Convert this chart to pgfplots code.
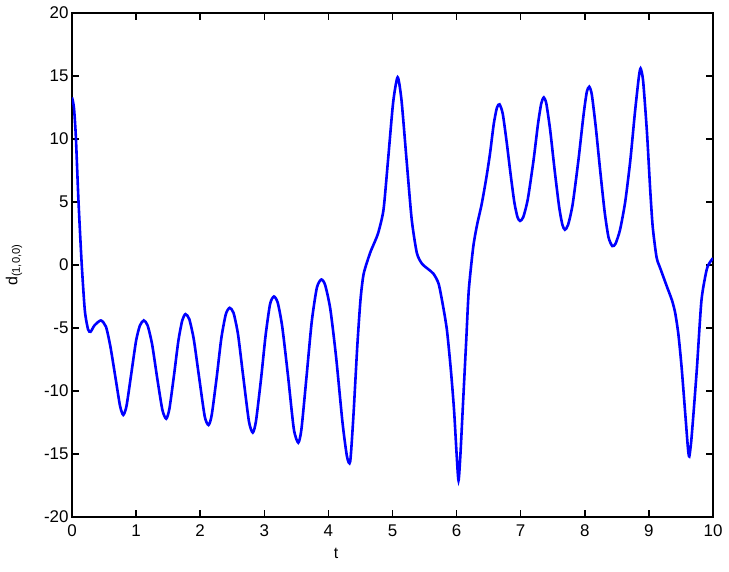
\documentclass[border=0pt]{standalone}
\usepackage{fontspec}
\setmainfont{Liberation Sans}
\usepackage{pgfplots}
\pgfplotsset{compat=1.18}
\begin{document}
\begin{tikzpicture}
\begin{axis}[
  scale only axis,
  width=641bp, height=504bp,
  xmin=0, xmax=10, ymin=-20, ymax=20,
  xtick={0,1,2,3,4,5,6,7,8,9,10},
  xticklabels={0,1,2,3,4,5,6,7,8,9,10},
  ytick={-20,-15,-10,-5,0,5,10,15,20},
  yticklabels={-20,-15,-10,-5,0,5,10,15,20},
  tick align=inside,
  tick pos=both,
  major tick length=7bp,
  axis line style={line width=1.5bp, black},
  every tick/.style={line width=1.5bp, black},
  ticklabel style={font=\fontsize{17}{20}\selectfont},
  xticklabel style={yshift=-4bp},
  xlabel={t},
  ylabel={d\textsubscript{(1,0,0)}},
  label style={font=\fontsize{16}{18}\selectfont},
  xlabel style={at={([yshift=-36bp]rel axis cs:0.412,0)}, anchor=center},
  ylabel style={at={([xshift=-58bp]rel axis cs:0,0.5)}, anchor=center},
]
\addplot[color={rgb,255:red,0;green,0;blue,255}, line width=2.6bp, smooth, tension=0.4] coordinates {
(0.00,13.3) (0.03,12.5) (0.06,10.2) (0.10,5.2) (0.15,0.2) (0.20,-3.6) (0.25,-5.1) (0.29,-5.3)
(0.35,-4.8) (0.45,-4.4) (0.53,-4.9) (0.60,-6.5) (0.68,-9.0) (0.75,-11.2) (0.80,-11.9) (0.85,-11.2)
(0.92,-8.8) (1.00,-6.0) (1.06,-4.8) (1.12,-4.4) (1.18,-4.8) (1.25,-6.3) (1.33,-9.0) (1.41,-11.5)
(1.47,-12.2) (1.52,-11.4) (1.59,-8.8) (1.66,-6.0) (1.72,-4.4) (1.77,-3.9) (1.83,-4.3) (1.90,-5.9)
(1.98,-8.8) (2.07,-12.0) (2.13,-12.7) (2.18,-11.9) (2.26,-8.8) (2.33,-5.8) (2.40,-3.9) (2.46,-3.4)
(2.52,-3.8) (2.59,-5.5) (2.67,-8.8) (2.76,-12.4) (2.82,-13.3) (2.87,-12.4) (2.95,-9.0) (3.02,-5.6)
(3.09,-3.1) (3.15,-2.5) (3.21,-3.0) (3.28,-4.9) (3.37,-8.8) (3.46,-13.0) (3.53,-14.1) (3.58,-13.0)
(3.66,-8.8) (3.74,-4.5) (3.82,-1.8) (3.89,-1.15) (3.95,-1.6) (4.03,-3.5) (4.12,-7.3) (4.22,-12.5)
(4.29,-15.2) (4.34,-15.6) (4.39,-12.0) (4.45,-6.5) (4.50,-2.8) (4.55,-0.7) (4.65,0.95) (4.72,1.8)
(4.78,2.6) (4.86,4.4) (4.93,8.3) (5.01,12.9) (5.08,14.9) (5.14,13.1) (5.22,8.3) (5.30,3.6)
(5.38,0.95) (5.46,0.1) (5.55,-0.3) (5.64,-0.7) (5.72,-1.5) (5.79,-3.3) (5.85,-5.2) (5.91,-8.3)
(5.96,-11.5) (6.00,-15.0) (6.03,-17.1) (6.06,-15.0) (6.10,-11.0) (6.15,-6.0) (6.19,-2.0) (6.26,1.45)
(6.32,3.2) (6.39,4.8) (6.46,6.8) (6.52,8.8) (6.58,11.2) (6.63,12.5) (6.67,12.75) (6.72,12.0)
(6.78,9.8) (6.84,7.3) (6.90,5.0) (6.95,3.8) (6.99,3.5) (7.04,3.8) (7.11,5.2) (7.20,8.3)
(7.27,11.2) (7.32,12.8) (7.36,13.3) (7.40,12.8) (7.46,10.7) (7.53,7.5) (7.60,4.6) (7.65,3.2)
(7.69,2.8) (7.74,3.2) (7.81,4.8) (7.90,8.3) (7.98,11.9) (8.03,13.7) (8.07,14.15) (8.11,13.5)
(8.17,11.0) (8.24,7.5) (8.31,4.2) (8.37,2.2) (8.43,1.5) (8.48,1.7) (8.55,2.8) (8.63,5.0)
(8.71,8.3) (8.78,12.0) (8.84,14.8) (8.87,15.6) (8.91,14.6) (8.97,10.5) (9.02,6.0) (9.06,3.0)
(9.12,0.6) (9.18,-0.3) (9.28,-1.7) (9.36,-2.8) (9.41,-3.8) (9.46,-5.5) (9.51,-8.1) (9.57,-12.0)
(9.61,-14.6) (9.63,-15.2) (9.66,-14.0) (9.70,-11.5) (9.75,-8.1) (9.82,-2.8) (9.90,-0.4) (9.95,0.2)
(10.00,0.55)
};
\coordinate (SW) at (rel axis cs:0,0);
\coordinate (NE) at (rel axis cs:1,1);
\end{axis}
\pgfresetboundingbox
\path[use as bounding box] ([shift={(-72bp,-55bp)}]SW) rectangle ([shift={(16bp,13bp)}]NE);
\end{tikzpicture}
\end{document}
